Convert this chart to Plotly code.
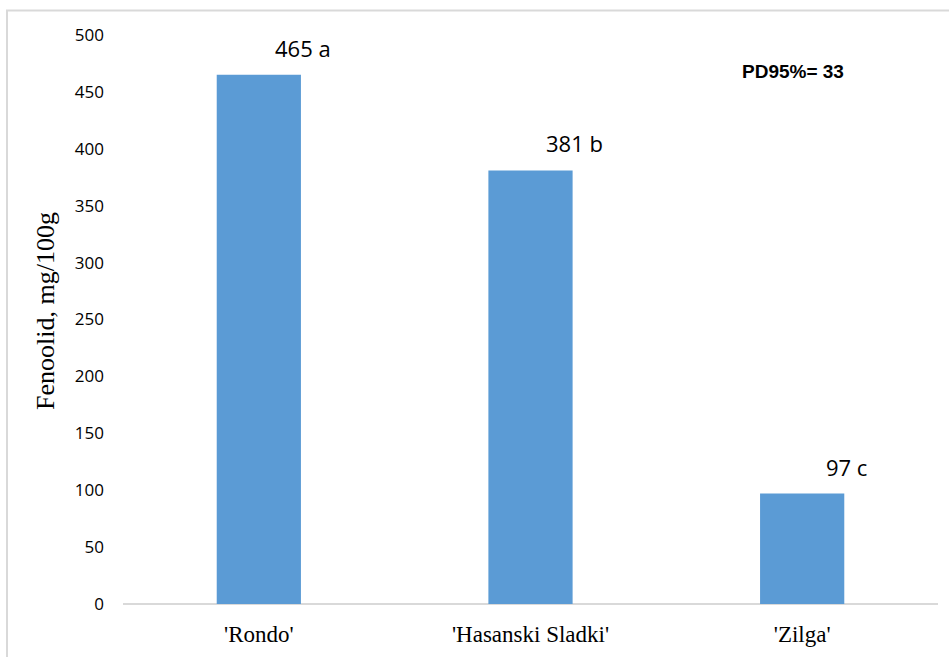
import plotly.graph_objects as go

# Phenolic content per cultivar
cultivars = ["'Rondo'", "'Hasanski Sladki'", "'Zilga'"]
fenoolid = [465, 381, 97]
letters = ["a", "b", "c"]
y_ticks = [0, 50, 100, 150, 200, 250, 300, 350, 400, 450, 500]
lsd_text = "PD95%= 33"
y_title = "Fenoolid, mg/100g"

W, H = 949, 657
L, R, T, B = 123, 11, 35, 53
pw, ph = W - L - R, H - T - B

SERIF = "Liberation Serif"
SANS = "Open Sans"

fig = go.Figure()
fig.add_trace(go.Bar(
    x=cultivars, y=fenoolid, width=0.31,
    marker=dict(color="#5b9bd5", line=dict(width=0)),
))

for c, v, s in zip(cultivars, fenoolid, letters):
    fig.add_annotation(
        x=c, y=v, xref="x", yref="y", text=f"{v} {s}", showarrow=False,
        xshift=44, yshift=27, xanchor="center", yanchor="middle",
        font=dict(family=SANS, size=22, color="#000000"),
    )

fig.add_annotation(
    x=(793 - L) / pw, y=1 - (72 - T) / ph, xref="paper", yref="paper",
    xanchor="center", yanchor="middle",
    text=f"<b>{lsd_text}</b>", showarrow=False,
    font=dict(family="Liberation Sans", size=19, color="#000000"),
)

# y-axis title placed as rotated text
fig.add_annotation(
    x=(45 - L) / pw, y=1 - (311 - T) / ph, xref="paper", yref="paper",
    xanchor="center", yanchor="middle", textangle=-90,
    text=y_title, showarrow=False,
    font=dict(family=SERIF, size=26, color="#000000"),
)

# chart-area frame (light gray)
fig.add_shape(
    type="rect", xref="paper", yref="paper",
    x0=(7 - L) / pw, x1=(W + 20 - L) / pw,
    y0=1 - (H + 20 - T) / ph, y1=1 + (T - 10.5) / ph,
    line=dict(color="#d9d9d9", width=2), fillcolor="rgba(0,0,0,0)", layer="below",
)

fig.update_layout(
    width=W, height=H,
    margin=dict(l=L, r=R, t=T, b=B),
    paper_bgcolor="white", plot_bgcolor="white",
    showlegend=False,
    xaxis=dict(
        showgrid=False, zeroline=False, showline=False,
        ticks="", ticklabelstandoff=14,
        tickfont=dict(family=SERIF, size=23, color="#000000"),
    ),
    yaxis=dict(
        range=[0, 500], tickvals=y_ticks, showgrid=False, zeroline=True,
        zerolinecolor="#d9d9d9", zerolinewidth=2, showline=False,
        ticks="", ticklabelstandoff=18,
        tickfont=dict(family=SANS, size=17, color="#000000"),
    ),
)

fig.write_html("out.html")
